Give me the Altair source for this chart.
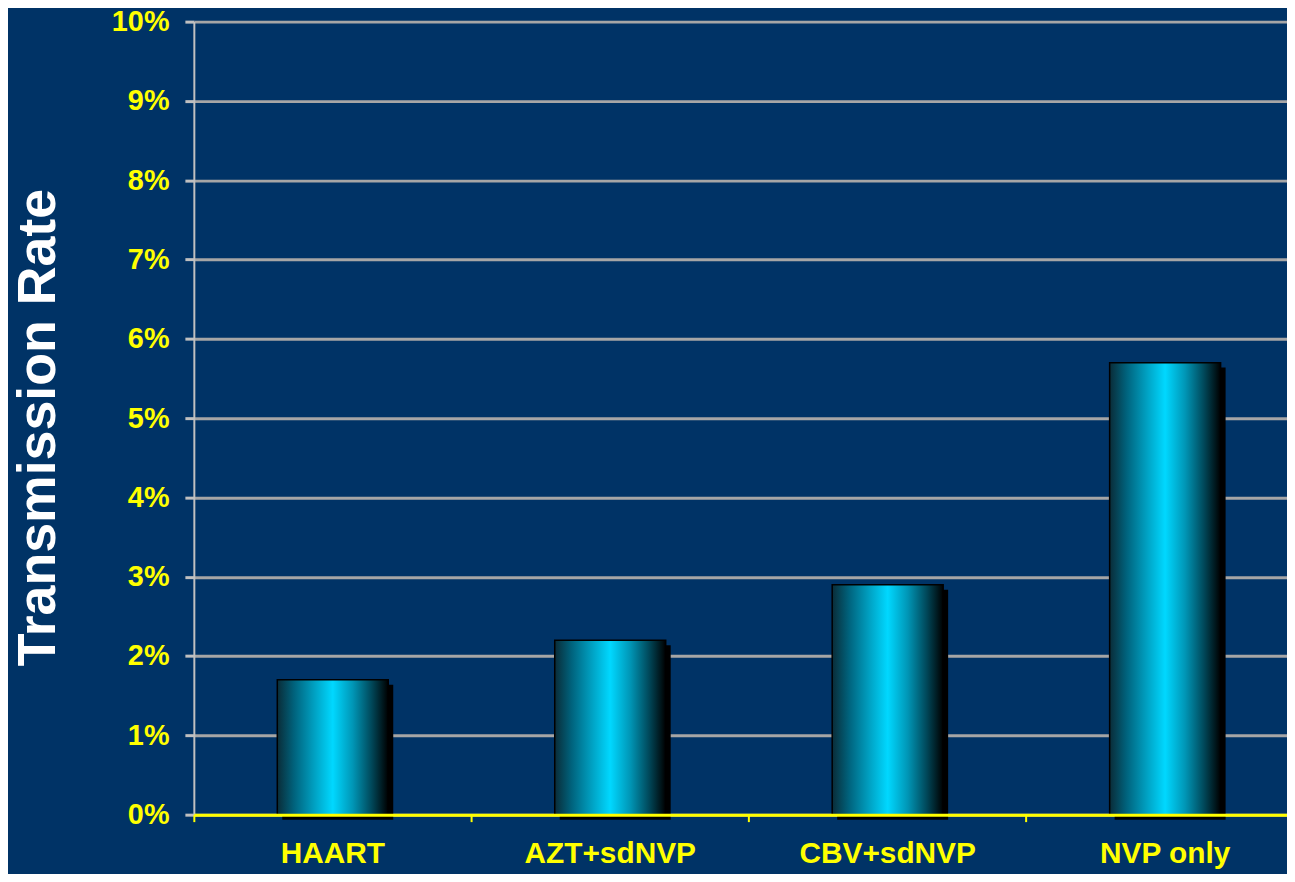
import altair as alt
import pandas as pd

categories = ["HAART", "AZT+sdNVP", "CBV+sdNVP", "NVP only"]
rates = [1.7, 2.2, 2.9, 5.7]
y_ticks = [0, 1, 2, 3, 4, 5, 6, 7, 8, 9, 10]

df = pd.DataFrame({"regimen": categories, "rate": rates})

FONT = "Liberation Sans"
YELLOW = "#ffff00"
BG = "#003366"

x_scale = alt.Scale(paddingInner=0.6, paddingOuter=0.27, align=0.557)

x_labels = alt.X(
    "regimen:N",
    sort=categories,
    scale=x_scale,
    axis=alt.Axis(
        title=None,
        orient="bottom",
        labelAngle=0,
        labelFont=FONT,
        labelFontWeight="bold",
        labelFontSize=30,
        labelColor=YELLOW,
        labelPadding=24,
        ticks=False,
        domainColor=YELLOW,
        domainWidth=3,
        zindex=2,
    ),
)

x_ticks = alt.X(
    "regimen:N",
    sort=categories,
    scale=x_scale,
    axis=alt.Axis(
        title=None,
        orient="bottom",
        labels=False,
        domain=False,
        tickColor=YELLOW,
        tickWidth=2,
        tickSize=7,
        bandPosition=-0.75,
        zindex=2,
    ),
)

y_enc = alt.Y(
    "rate:Q",
    scale=alt.Scale(domain=[0, 10], nice=False),
    axis=alt.Axis(
        values=y_ticks,
        labelExpr="datum.value + '%'",
        title="Transmission Rate",
        titleFont=FONT,
        titleFontWeight="bold",
        titleFontSize=54,
        titleColor="white",
        titleAngle=270,
        titleAlign="center",
        titleBaseline="middle",
        titleX=-156,
        titleY=408,
        labelFont=FONT,
        labelFontWeight="bold",
        labelFontSize=29,
        labelColor=YELLOW,
        labelPadding=16,
        grid=True,
        gridColor="#a6a6a6",
        gridWidth=3,
        domainColor="#c0c0c0",
        domainWidth=2,
        tickColor="#c0c0c0",
        tickWidth=3,
        tickSize=9,
    ),
)

gradient = alt.Gradient(
    gradient="linear",
    x1=0, x2=1, y1=0, y2=0,
    stops=[
        alt.GradientStop(color="#0a2c38", offset=0),
        alt.GradientStop(color="#00627c", offset=0.15),
        alt.GradientStop(color="#00a6c8", offset=0.35),
        alt.GradientStop(color="#00d8ff", offset=0.5),
        alt.GradientStop(color="#0096b6", offset=0.68),
        alt.GradientStop(color="#00485a", offset=0.85),
        alt.GradientStop(color="#000000", offset=1),
    ],
)

shadow = alt.Chart(df).mark_bar(color="#000000", xOffset=5, yOffset=5).encode(x=x_labels, y=y_enc)
bars = alt.Chart(df).mark_bar(
    color=gradient, stroke="#000000", strokeWidth=1.5
).encode(x=x_ticks, y=y_enc)

chart = (
    alt.layer(shadow, bars)
    .resolve_axis(x="independent")
    .properties(
        width=1100,
        height=798,
        background=BG,
        padding={"left": 187, "top": 11, "right": 0, "bottom": 57},
        autosize=alt.AutoSizeParams(type="none"),
    )
    .configure_view(stroke=None)
)

chart.save("out.html", embed_options={"renderer": "svg", "actions": False})
